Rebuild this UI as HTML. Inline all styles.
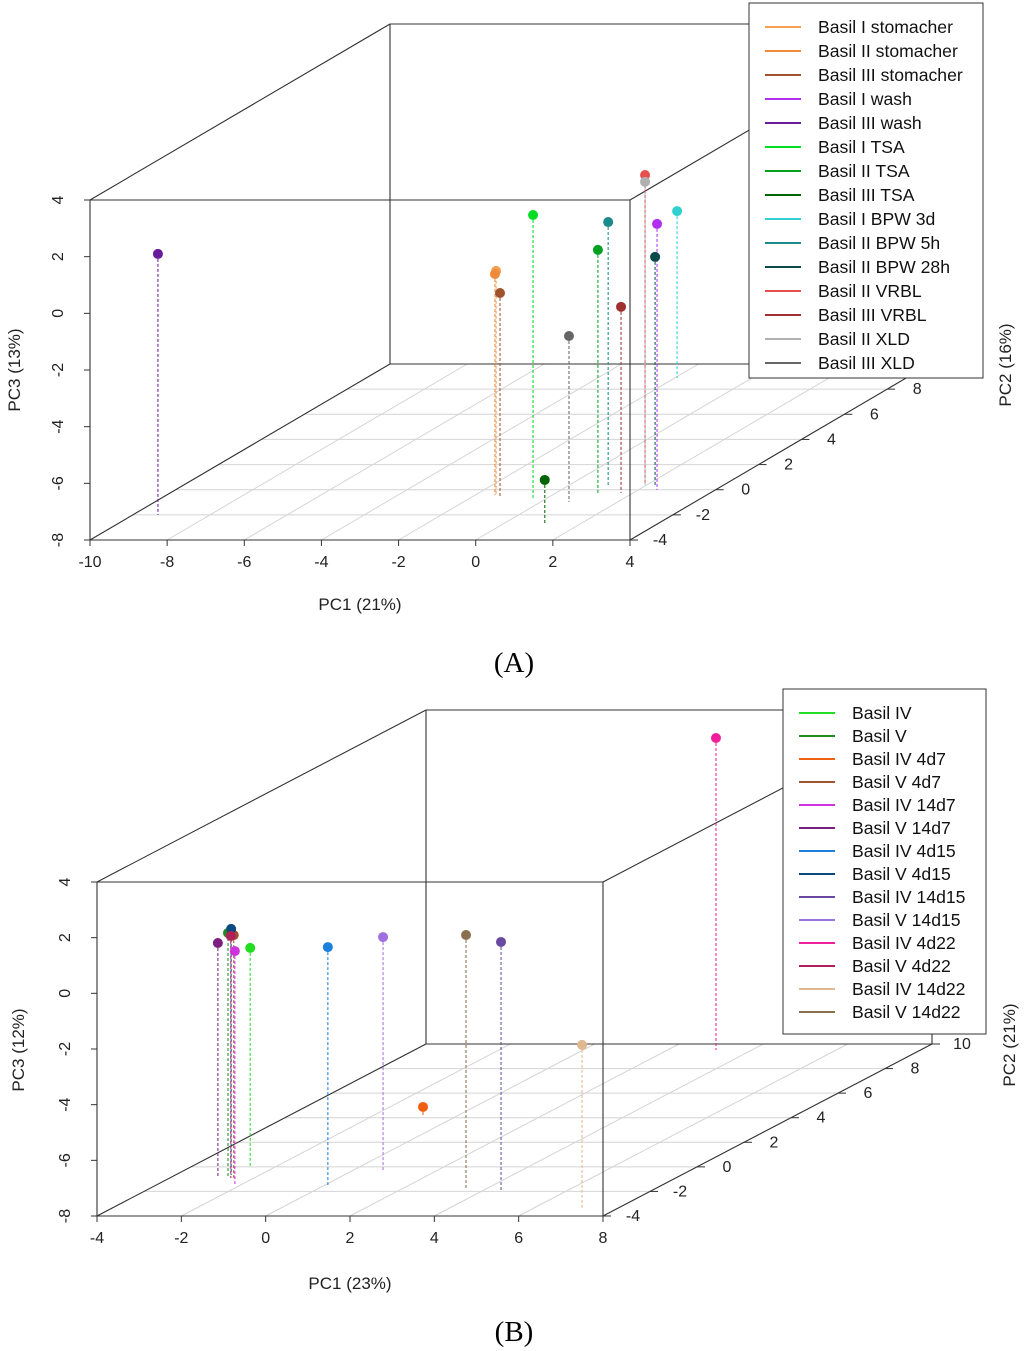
<!DOCTYPE html>
<html><head><meta charset="utf-8"><style>
body{margin:0;background:#fff}
svg{display:block;font-family:"Liberation Sans",sans-serif}
</style></head><body>
<svg id="s" width="1024" height="1351" viewBox="0 0 1024 1351"></svg>
<script>
// Panel A data
const catsA=["Basil I stomacher","Basil II stomacher","Basil III stomacher","Basil I wash","Basil III wash","Basil I TSA","Basil II TSA","Basil III TSA","Basil I BPW 3d","Basil II BPW 5h","Basil II BPW 28h","Basil II VRBL","Basil III VRBL","Basil II XLD","Basil III XLD"];
const colA=["#f5a050","#ee8a3a","#a0522d","#b030f0","#6a1b9a","#00dd22","#00a020","#006400","#30d0d0","#1a8a8a","#0a4a4a","#e85050","#a03030","#b0b0b0","#666666"];
const pc1A=[-1.46,-1.49,-1.27,2.49,-9.35,-0.28,1.09,1.04,-1.94,1.09,2.22,1.96,1.69,1.96,0.74];
const pc2A=[-0.42,-0.42,-0.58,-0.02,-2.0,-0.82,-0.26,-2.65,8.89,0.22,0.375,0.375,-0.26,0.375,-0.98];
const pc3A=[-0.09,-0.2,-0.8,1.39,1.21,2.06,0.58,-6.48,-2.11,1.35,0.05,2.94,-1.43,2.7,-2.14];
const xTicksA=[-10,-8,-6,-4,-2,0,2,4];
const yTicksA=[-4,-2,0,2,4,6,8,10];
const zTicksA=[-8,-6,-4,-2,0,2,4];
// Panel B data
const catsB=["Basil IV","Basil V","Basil IV 4d7","Basil V 4d7","Basil IV 14d7","Basil V 14d7","Basil IV 4d15","Basil V 4d15","Basil IV 14d15","Basil V 14d15","Basil IV 4d22","Basil V 4d22","Basil IV 14d22","Basil V 14d22"];
const colB=["#22dd22","#228b22","#f06010","#a0522d","#cc33dd","#7b2080","#1a7fdd","#0a4a80","#6a4aa0","#9f70e0","#f0209a","#b0205a","#e0b890","#8b7050"];
const pc1B=[-2.59,-2.66,-0.76,-2.39,-2.18,-2.9,0.07,-2.68,4.40,0.70,3.15,-2.55,7.23,3.57];
const pc2B=[-0.01,-0.83,4.06,-1.07,-1.40,-0.83,-1.48,-0.66,-1.88,-0.26,9.51,-0.91,-3.51,-1.88];
const pc3B=[-0.13,0.77,-7.64,0.8,0.37,0.41,0.55,0.84,0.91,0.37,3.21,0.7,-2.07,1.16];
const xTicksB=[-4,-2,0,2,4,6,8];
const yTicksB=[-4,-2,0,2,4,6,8,10];
const zTicksB=[-8,-6,-4,-2,0,2,4];

const svg=document.getElementById('s');
const NS="http://www.w3.org/2000/svg";
function mk(tag,at,parent,txt){const e=document.createElementNS(NS,tag);for(const k in at)e.setAttribute(k,at[k]);if(txt!==undefined)e.textContent=txt;(parent||svg).appendChild(e);return e;}

function panel(P){
  const g=mk('g',{});
  
  
  const xr=[P.xt[0],P.xt[P.xt.length-1]],yr=[P.yt[0],P.yt[P.yt.length-1]],zr=[P.zt[0],P.zt[P.zt.length-1]];
  const sx=x=>P.L+(x-xr[0])/(xr[1]-xr[0])*(P.R-P.L);
  const dpx=y=>(y-yr[0])/(yr[1]-yr[0])*P.DX;
  const dpy=y=>(y-yr[0])/(yr[1]-yr[0])*P.DY;
  const sz=z=>P.B-(z-zr[0])/(zr[1]-zr[0])*(P.B-P.T);
  const X=(x,y)=>sx(x)+dpx(y), Y=(y,z)=>sz(z)-dpy(y);
  const grid=mk('g',{stroke:'#d4d4d4','stroke-width':1},g);
  
  
  P.xt.forEach(x=>mk('line',{x1:X(x,yr[0]),y1:Y(yr[0],zr[0]),x2:X(x,yr[1]),y2:Y(yr[1],zr[0])},grid));
  P.yt.forEach(y=>mk('line',{x1:X(xr[0],y),y1:Y(y,zr[0]),x2:X(xr[1],y),y2:Y(y,zr[0])},grid));
  const box=mk('g',{stroke:'#333','stroke-width':1.1,fill:'none'},g);
  
  
  const c=(x,y,z)=>[X(x,y),Y(y,z)];
  const edges=[[[0,0,0],[1,0,0]],[[0,0,1],[1,0,1]],[[0,0,0],[0,0,1]],[[1,0,0],[1,0,1]],
    [[0,1,0],[1,1,0]],[[0,1,1],[1,1,1]],[[0,1,0],[0,1,1]],[[1,1,0],[1,1,1]],
    [[0,0,0],[0,1,0]],[[1,0,0],[1,1,0]],[[0,0,1],[0,1,1]],[[1,0,1],[1,1,1]]];
  edges.forEach(e=>{const a=c(xr[e[0][0]],yr[e[0][1]],zr[e[0][2]]),b=c(xr[e[1][0]],yr[e[1][1]],zr[e[1][2]]);mk('line',{x1:a[0],y1:a[1],x2:b[0],y2:b[1]},box);});
  const ax=mk('g',{'font-size':16,fill:'#222'},g);
  
  
  P.xt.forEach(x=>{mk('line',{x1:sx(x),y1:P.B,x2:sx(x),y2:P.B+6,stroke:'#333'},ax);
    const t=mk('text',{x:sx(x),y:P.B+27,'text-anchor':'middle'},ax,String(x));});
  P.zt.forEach(z=>{mk('line',{x1:P.L,y1:sz(z),x2:P.L-6,y2:sz(z),stroke:'#333'},ax);
    const t=mk('text',{x:0,y:0,'text-anchor':'middle',transform:`translate(${P.L-27},${sz(z)}) rotate(-90)`},ax,String(z));});
  P.yt.forEach(y=>{const px=X(xr[1],y),py=Y(y,zr[0]);mk('line',{x1:px,y1:py,x2:px+8,y2:py,stroke:'#333'},ax);
    const t=mk('text',{x:px+30,y:py+5,'text-anchor':'middle'},ax,String(y));});
  let t=mk('text',{x:P.t1[0],y:P.t1[1],'text-anchor':'middle','font-size':17},ax,P.n1);
  t=mk('text',{x:0,y:0,'text-anchor':'middle','font-size':17,transform:`translate(${P.t3[0]},${P.t3[1]}) rotate(-90)`},ax,P.n3);
  t=mk('text',{x:0,y:0,'text-anchor':'middle','font-size':17,transform:`translate(${P.t2[0]},${P.t2[1]}) rotate(-90)`},ax,P.n2);
  const pts=mk('g',{},g);
  
  
  P.x.forEach((x,i)=>{const y=P.y[i],z=P.z[i];
    const l=mk('line',{x1:X(x,y),y1:Y(y,z),x2:X(x,y),y2:Y(y,zr[0]),stroke:P.col[i],'stroke-width':1.3,'stroke-dasharray':'3,2',opacity:0.8},pts);
    });
  P.x.forEach((x,i)=>{const y=P.y[i],z=P.z[i];
    const p=mk('circle',{cx:X(x,y),cy:Y(y,z),r:5,fill:P.col[i]},pts);
    });
  const lg=mk('g',{'font-size':17.6,fill:'#111'},g);
  
  
  mk('rect',{x:P.lg[0],y:P.lg[1],width:P.lg[2],height:P.lg[3],fill:'#fff',stroke:'#333'},lg);
  P.cats.forEach((n,i)=>{const yy=P.lg[1]+24+i*P.ls;
    mk('line',{x1:P.lg[0]+16,y1:yy,x2:P.lg[0]+52,y2:yy,stroke:P.col[i],'stroke-width':2},lg);
    const e=mk('text',{x:P.lg[0]+69,y:yy+6},lg,n);});
}
panel({id:'panel-a',L:90,R:630,T:200,B:540,DX:300,DY:176,xt:xTicksA,yt:yTicksA,zt:zTicksA,x:pc1A,y:pc2A,z:pc3A,col:colA,cats:catsA,
  n1:'PC1 (21%)',n2:'PC2 (16%)',n3:'PC3 (13%)',t1:[360,610],t2:[1011,365],t3:[20,370],lg:[749,3,234,375],ls:24});
panel({id:'panel-b',L:97,R:603,T:882,B:1216,DX:329,DY:172,xt:xTicksB,yt:yTicksB,zt:zTicksB,x:pc1B,y:pc2B,z:pc3B,col:colB,cats:catsB,
  n1:'PC1 (23%)',n2:'PC2 (21%)',n3:'PC3 (12%)',t1:[350,1289],t2:[1015,1045],t3:[24,1050],lg:[783,689,203,345],ls:23});
let cap=mk('text',{x:514,y:672,'text-anchor':'middle','font-size':29,'font-family':'Liberation Serif, serif'},svg,'(A)');

cap=mk('text',{x:514,y:1341,'text-anchor':'middle','font-size':29,'font-family':'Liberation Serif, serif'},svg,'(B)');

</script>
</body></html>
